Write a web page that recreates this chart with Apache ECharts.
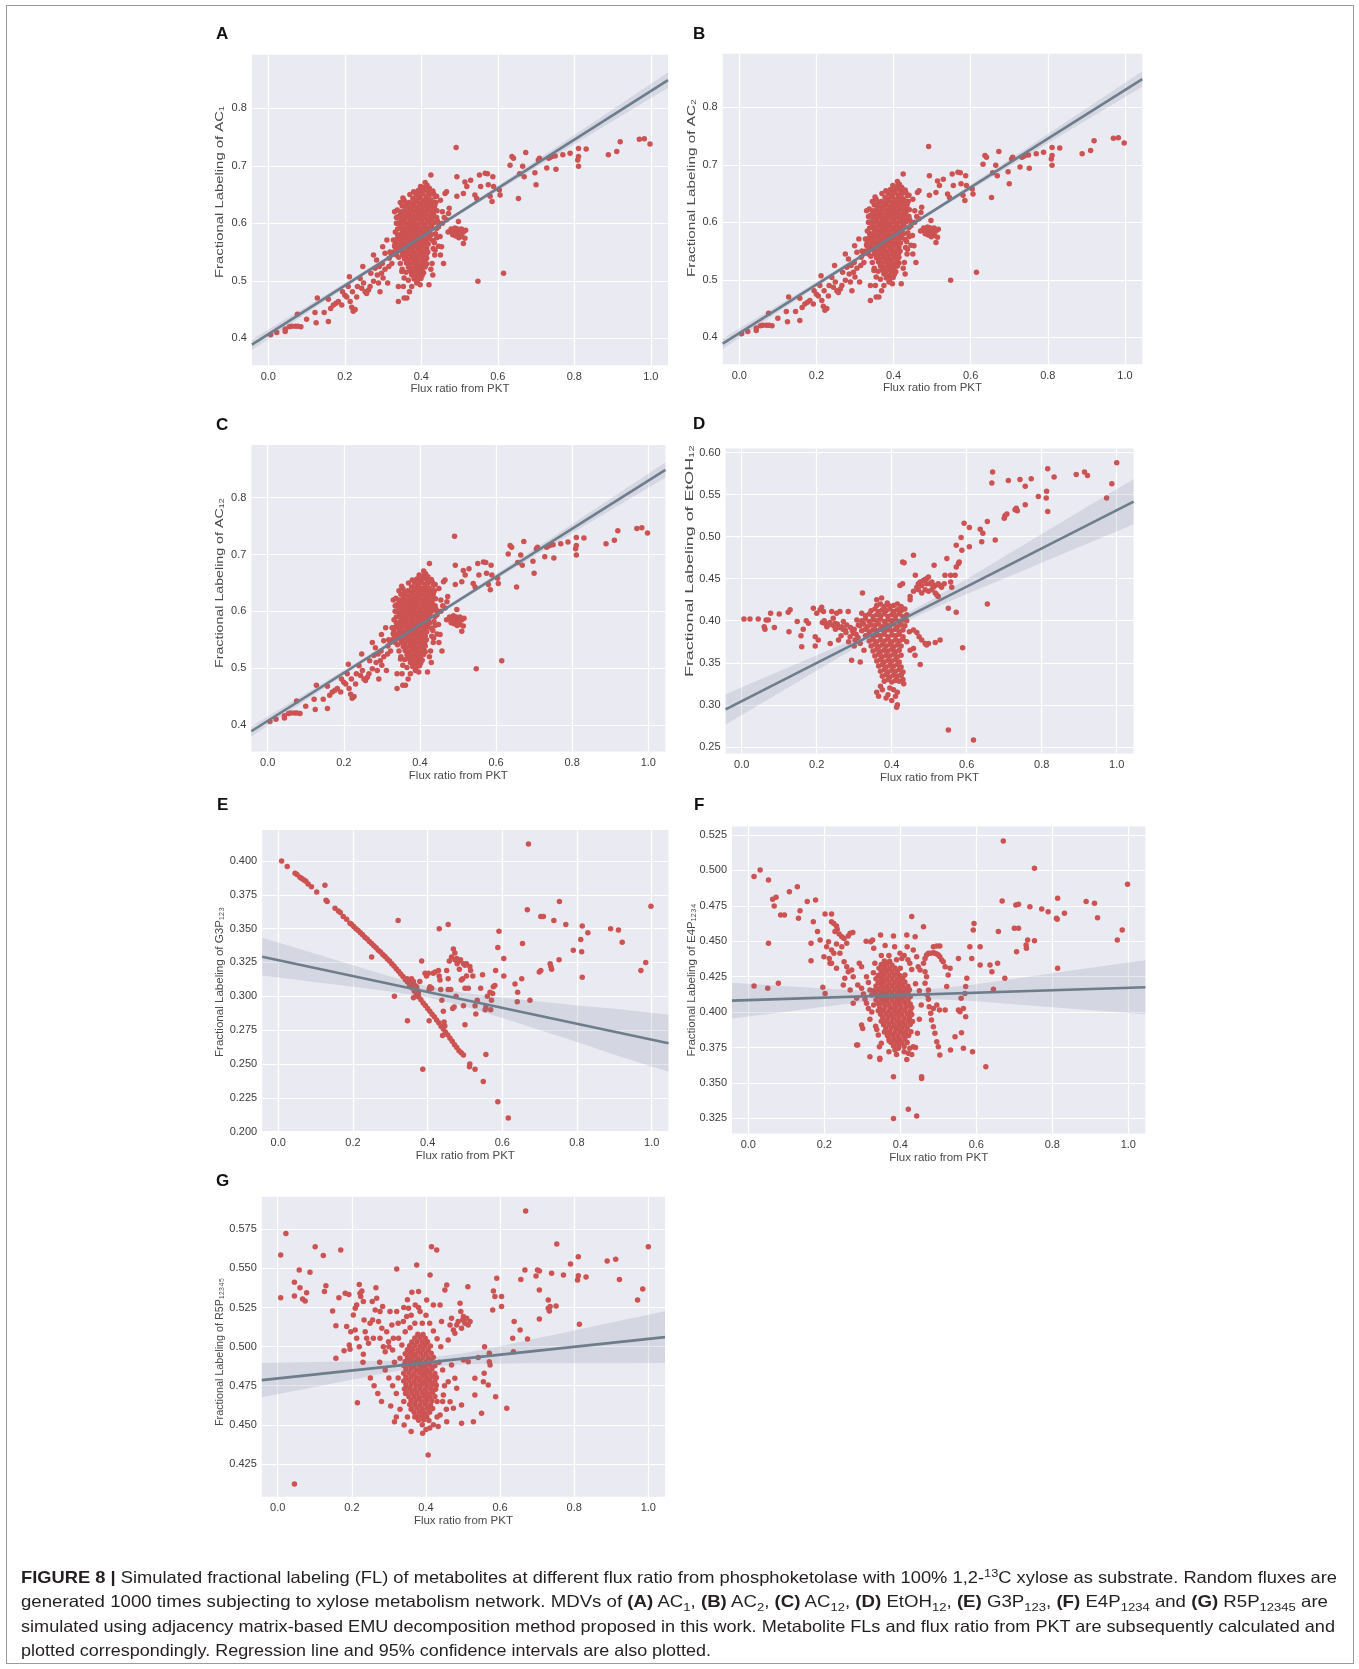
<!DOCTYPE html>
<html>
<head>
<meta charset="utf-8">
<script src="https://cdn.jsdelivr.net/npm/echarts@6/dist/echarts.min.js"></script>
<style>
    body { margin: 0; background: #fff; }
    #chart { position: absolute; left: 0; top: 0; width: 1359px; height: 1669px; }
    #frame { position: absolute; left: 6px; top: 5px; width: 1346px; height: 1657px; border: 1px solid #9a9a9a; }
    .ln { position: absolute; left: 21px; white-space: nowrap; transform-origin: 0 50%;
          font-family: "Liberation Sans Narrow", "Liberation Sans", sans-serif; font-size: 16.5px;
          line-height: 20px; color: #231f20; }
    .ln sub, .ln sup { font-size: 70%; line-height: 0; }
</style>
</head>
<body>
<div id="frame"></div>
<div id="chart"></div>
<div id="caption">
    <div class="ln" data-w="1316" style="top:1567px"><b>FIGURE 8 |</b> Simulated fractional labeling (FL) of metabolites at different flux ratio from phosphoketolase with 100% 1,2-<sup>13</sup>C xylose as substrate. Random fluxes are</div>
    <div class="ln" data-w="1307" style="top:1591px">generated 1000 times subjecting to xylose metabolism network. MDVs of <b>(A)</b> AC<sub>1</sub>, <b>(B)</b> AC<sub>2</sub>, <b>(C)</b> AC<sub>12</sub>, <b>(D)</b> EtOH<sub>12</sub>, <b>(E)</b> G3P<sub>123</sub>, <b>(F)</b> E4P<sub>1234</sub> and <b>(G)</b> R5P<sub>12345</sub> are</div>
    <div class="ln" data-w="1314" style="top:1616px">simulated using adjacency matrix-based EMU decomposition method proposed in this work. Metabolite FLs and flux ratio from PKT are subsequently calculated and</div>
    <div class="ln" data-w="690" style="top:1640px">plotted correspondingly. Regression line and 95% confidence intervals are also plotted.</div>
</div>
<script>
// 坐标轴刻度
var xTicks = [0, 0.2, 0.4, 0.6, 0.8, 1.0];
var yTicksAC = [0.4, 0.5, 0.6, 0.7, 0.8];
var yTicksD = [0.25, 0.30, 0.35, 0.40, 0.45, 0.50, 0.55, 0.60];
var yTicksE = [0.200, 0.225, 0.250, 0.275, 0.300, 0.325, 0.350, 0.375, 0.400];
var yTicksF = [0.325, 0.350, 0.375, 0.400, 0.425, 0.450, 0.475, 0.500, 0.525];
var yTicksG = [0.425, 0.450, 0.475, 0.500, 0.525, 0.550, 0.575];

// AC1 / AC2 / AC12 (three panels look the same)
var pointsAC = [
    [0.006,0.406],[0.022,0.410],[0.044,0.412],[0.044,0.416],[0.055,0.420],[0.061,0.421],[0.070,0.421],[0.077,0.421],[0.076,0.442],[0.085,0.420],
    [0.100,0.433],[0.122,0.445],[0.125,0.427],[0.128,0.470],[0.146,0.445],[0.157,0.468],[0.157,0.429],[0.163,0.452],[0.170,0.458],[0.177,0.461],
    [0.183,0.464],[0.192,0.458],[0.194,0.481],[0.200,0.475],[0.205,0.472],[0.209,0.490],[0.212,0.507],[0.214,0.464],[0.218,0.454],[0.222,0.447],
    [0.227,0.450],[0.220,0.481],[0.231,0.472],[0.233,0.490],[0.240,0.504],[0.244,0.487],[0.249,0.496],[0.247,0.525],[0.253,0.481],[0.257,0.478],
    [0.262,0.484],[0.266,0.490],[0.268,0.513],[0.275,0.499],[0.279,0.522],[0.275,0.545],[0.283,0.536],[0.288,0.496],[0.292,0.481],[0.296,0.513],
    [0.299,0.559],[0.305,0.548],[0.310,0.571],[0.312,0.496],[0.316,0.539],[0.323,0.530],[0.327,0.571],[0.331,0.559],[0.336,0.600],[0.337,0.623],
    [0.340,0.490],[0.340,0.464],[0.344,0.574],[0.349,0.516],[0.353,0.490],[0.355,0.470],[0.362,0.470],[0.366,0.501],[0.369,0.481],[0.375,0.490],
    [0.382,0.507],[0.388,0.496],[0.392,0.507],[0.397,0.493],[0.420,0.493],[0.414,0.539],[0.425,0.684],[0.432,0.652],[0.440,0.647],[0.436,0.553],
    [0.445,0.594],[0.449,0.577],[0.453,0.559],[0.458,0.530],[0.462,0.652],[0.466,0.655],[0.471,0.617],[0.473,0.626],[0.466,0.606],[0.475,0.586],
    [0.484,0.586],[0.493,0.583],[0.497,0.603],[0.501,0.588],[0.506,0.577],[0.510,0.565],[0.514,0.574],[0.516,0.588],[0.493,0.681],[0.491,0.732],
    [0.493,0.647],[0.510,0.652],[0.514,0.672],[0.519,0.664],[0.529,0.675],[0.540,0.649],[0.545,0.643],[0.552,0.684],[0.555,0.664],[0.567,0.687],
    [0.573,0.686],[0.575,0.667],[0.580,0.647],[0.585,0.638],[0.587,0.681],[0.589,0.664],[0.604,0.658],[0.606,0.649],[0.548,0.499],[0.615,0.513],
    [0.632,0.701],[0.637,0.716],[0.641,0.713],[0.654,0.643],[0.657,0.686],[0.665,0.699],[0.669,0.681],[0.673,0.723],[0.697,0.688],[0.700,0.667],
    [0.706,0.710],[0.709,0.713],[0.728,0.696],[0.733,0.713],[0.737,0.715],[0.741,0.716],[0.750,0.717],[0.752,0.694],[0.770,0.719],[0.789,0.722],
    [0.811,0.730],[0.809,0.710],[0.811,0.716],[0.811,0.699],[0.831,0.729],[0.889,0.719],[0.911,0.725],[0.920,0.742],[0.970,0.746],[0.983,0.747],
    [0.998,0.738],
    [0.470,0.585],[0.478,0.590],[0.488,0.592],[0.495,0.590],[0.500,0.582],[0.505,0.590],[0.490,0.578],[0.482,0.580],[0.510,0.585],[0.498,0.575],
    [0.430,0.620],[0.435,0.630],[0.440,0.610],[0.450,0.640],[0.455,0.620],[0.440,0.575],[0.445,0.560],[0.430,0.570],[0.435,0.545],[0.428,0.530],
    [0.430,0.510],[0.425,0.520],[0.455,0.600],[0.460,0.610],[0.450,0.545],
    [0.330,0.620],[0.335,0.610],[0.338,0.580],[0.332,0.565],[0.335,0.545],[0.328,0.550],[0.345,0.530],[0.350,0.520],[0.355,0.505],[0.360,0.515],
    [0.345,0.620],[0.350,0.630],[0.355,0.640],[0.360,0.635],[0.370,0.650],[0.380,0.655],
    [0.318,0.550],[0.322,0.545],[0.315,0.525],[0.305,0.520],[0.298,0.530],[0.290,0.525],[0.285,0.510],[0.300,0.505],
    [0.335,0.600],[0.338,0.590],[0.332,0.585],[0.340,0.612],[0.342,0.601],[0.441,0.622],[0.442,0.604],[0.440,0.591],[0.446,0.600],[0.438,0.636],
    [0.436,0.646],[0.430,0.656],[0.335,0.572],[0.330,0.561],[0.337,0.552],[0.341,0.541],[0.415,0.666],[0.410,0.671],[0.421,0.661],[0.437,0.582],
    [0.434,0.566],[0.431,0.556],[0.345,0.636],[0.352,0.644],
    // dense cloud
    [0.398,0.664],[0.407,0.662],
    [0.392,0.657],[0.401,0.655],[0.411,0.658],[0.419,0.654],
    [0.386,0.650],[0.395,0.648],[0.404,0.651],[0.413,0.647],[0.422,0.650],
    [0.378,0.643],[0.388,0.641],[0.397,0.644],[0.405,0.640],[0.414,0.643],[0.424,0.641],
    [0.368,0.636],[0.377,0.634],[0.386,0.637],[0.396,0.635],[0.404,0.633],[0.413,0.636],[0.421,0.634],[0.431,0.637],
    [0.361,0.629],[0.371,0.627],[0.380,0.630],[0.389,0.628],[0.398,0.626],[0.407,0.629],[0.416,0.627],[0.425,0.630],[0.433,0.626],
    [0.356,0.622],[0.365,0.620],[0.374,0.623],[0.383,0.621],[0.392,0.619],[0.401,0.622],[0.410,0.620],[0.419,0.623],[0.428,0.620],
    [0.351,0.615],[0.360,0.613],[0.369,0.616],[0.378,0.614],[0.387,0.612],[0.396,0.615],[0.405,0.613],[0.414,0.616],[0.423,0.613],[0.432,0.615],
    [0.347,0.608],[0.356,0.606],[0.365,0.609],[0.374,0.607],[0.383,0.605],[0.392,0.608],[0.401,0.606],[0.410,0.609],[0.419,0.606],[0.428,0.608],
    [0.352,0.601],[0.361,0.599],[0.370,0.602],[0.379,0.600],[0.388,0.598],[0.397,0.601],[0.406,0.599],[0.415,0.602],[0.424,0.599],[0.433,0.601],
    [0.346,0.594],[0.355,0.592],[0.364,0.595],[0.373,0.593],[0.382,0.591],[0.391,0.594],[0.400,0.592],[0.409,0.595],[0.418,0.592],[0.427,0.594],
    [0.350,0.587],[0.359,0.585],[0.368,0.588],[0.377,0.586],[0.386,0.584],[0.395,0.587],[0.404,0.585],[0.413,0.588],[0.422,0.585],
    [0.345,0.580],[0.354,0.578],[0.363,0.581],[0.372,0.579],[0.381,0.577],[0.390,0.580],[0.399,0.578],[0.408,0.581],[0.417,0.578],[0.426,0.580],
    [0.341,0.573],[0.350,0.571],[0.359,0.574],[0.368,0.572],[0.377,0.570],[0.386,0.573],[0.395,0.571],[0.404,0.574],[0.413,0.571],[0.421,0.573],
    [0.346,0.566],[0.355,0.564],[0.364,0.567],[0.373,0.565],[0.382,0.563],[0.391,0.566],[0.400,0.564],[0.409,0.567],[0.418,0.564],
    [0.342,0.559],[0.351,0.557],[0.360,0.560],[0.369,0.558],[0.378,0.556],[0.387,0.559],[0.396,0.557],[0.405,0.560],[0.414,0.557],
    [0.347,0.552],[0.356,0.550],[0.365,0.553],[0.374,0.551],[0.383,0.549],[0.392,0.552],[0.401,0.550],[0.410,0.553],[0.417,0.550],
    [0.351,0.545],[0.360,0.543],[0.369,0.546],[0.378,0.544],[0.387,0.542],[0.396,0.545],[0.405,0.543],[0.413,0.546],
    [0.356,0.538],[0.365,0.536],[0.374,0.539],[0.383,0.537],[0.392,0.535],[0.401,0.538],[0.410,0.536],
    [0.361,0.531],[0.370,0.529],[0.379,0.532],[0.388,0.530],[0.397,0.528],[0.406,0.531],[0.414,0.529],
    [0.366,0.524],[0.375,0.522],[0.384,0.525],[0.393,0.523],[0.402,0.521],[0.410,0.524],
    [0.370,0.517],[0.379,0.515],[0.388,0.518],[0.397,0.516],[0.406,0.514],
    [0.375,0.510],[0.384,0.508],[0.393,0.511],[0.402,0.509],
    [0.381,0.503],[0.390,0.501],[0.399,0.504]
];
var fitAC = [[-0.043, 0.3888], [1.045, 0.849]];
var bandAC = [[-0.043,0.3798,0.3978],[0.15,0.4655,0.4755],[0.3,0.5304,0.5374],[0.42,0.5817,0.5877],[0.55,0.6359,0.6435],[0.7,0.6971,0.7091],[0.85,0.7576,0.7756],[1.045,0.8355,0.8625]];

// EtOH12
var pointsD = [
    [0.006,0.402],[0.022,0.402],[0.044,0.402],[0.065,0.401],[0.071,0.401],[0.060,0.393],[0.062,0.390],[0.077,0.409],[0.087,0.392],[0.100,0.408],
    [0.124,0.410],[0.129,0.413],[0.126,0.387],[0.148,0.399],[0.158,0.382],[0.160,0.369],[0.164,0.390],[0.172,0.400],[0.178,0.397],[0.191,0.415],
    [0.196,0.381],[0.196,0.370],[0.200,0.409],[0.204,0.377],[0.209,0.413],[0.213,0.416],[0.218,0.411],[0.222,0.397],[0.227,0.393],[0.231,0.395],
    [0.236,0.373],[0.240,0.411],[0.244,0.403],[0.249,0.397],[0.253,0.409],[0.258,0.377],[0.262,0.411],[0.267,0.393],[0.271,0.399],[0.276,0.389],
    [0.280,0.395],[0.284,0.411],[0.289,0.381],[0.293,0.353],[0.298,0.385],[0.302,0.377],[0.307,0.401],[0.311,0.395],[0.316,0.373],[0.316,0.351],
    [0.322,0.433],[0.320,0.409],[0.326,0.365],
    [0.215,0.398],[0.220,0.400],[0.225,0.396],[0.235,0.398],[0.245,0.394],[0.255,0.396],[0.260,0.392],[0.270,0.390],[0.278,0.386],[0.290,0.392],
    [0.295,0.388],[0.300,0.390],[0.305,0.384],[0.310,0.380],[0.250,0.390],[0.265,0.382],[0.285,0.375],[0.300,0.370],
    [0.360,0.425],[0.373,0.427],[0.388,0.421],[0.396,0.417],[0.422,0.442],[0.429,0.444],[0.429,0.470],[0.433,0.469],[0.458,0.478],[0.463,0.454],
    [0.449,0.425],
    [0.449,0.429],[0.458,0.435],[0.467,0.440],[0.471,0.444],[0.476,0.446],[0.480,0.442],[0.484,0.448],[0.489,0.449],[0.493,0.450],[0.498,0.452],
    [0.493,0.444],[0.502,0.444],[0.507,0.446],[0.511,0.440],[0.516,0.433],[0.520,0.431],[0.524,0.429],[0.471,0.437],[0.480,0.433],[0.489,0.437],
    [0.498,0.435],[0.507,0.437],[0.516,0.442],[0.524,0.444],[0.529,0.442],[0.533,0.440],[0.540,0.444],
    [0.513,0.466],[0.542,0.454],[0.547,0.474],[0.557,0.454],[0.557,0.446],[0.560,0.440],[0.569,0.454],[0.572,0.464],[0.578,0.468],[0.572,0.490],
    [0.580,0.470],[0.585,0.499],[0.587,0.484],[0.593,0.516],[0.607,0.511],[0.607,0.488],[0.636,0.509],[0.640,0.494],[0.643,0.504],[0.655,0.518],
    [0.676,0.496],[0.667,0.564],[0.669,0.577],[0.700,0.522],[0.702,0.525],[0.707,0.527],[0.711,0.567],[0.729,0.532],[0.732,0.534],[0.735,0.531],
    [0.742,0.568],[0.756,0.560],[0.756,0.538],[0.772,0.569],[0.791,0.548],[0.812,0.546],[0.813,0.554],[0.816,0.530],[0.816,0.581],[0.833,0.571],
    [0.892,0.574],[0.914,0.577],[0.922,0.573],[0.973,0.546],[0.987,0.563],[1.000,0.588],
    [0.551,0.270],[0.618,0.258],[0.551,0.415],[0.572,0.410],[0.589,0.368],[0.655,0.420],[0.529,0.377],[0.516,0.374],[0.493,0.371],[0.498,0.373],
    [0.476,0.348],[0.462,0.359],[0.458,0.367],[0.449,0.365],[0.440,0.375],[0.447,0.387],[0.458,0.389],[0.467,0.386],[0.473,0.381],[0.480,0.377],
    [0.489,0.373],
    [0.370,0.322],[0.395,0.320],[0.405,0.318],[0.415,0.315],[0.360,0.315],[0.365,0.310],[0.390,0.312],[0.400,0.305],[0.410,0.310],[0.415,0.300],
    [0.413,0.297],[0.385,0.308],[0.430,0.330],[0.425,0.335],[0.432,0.325],[0.375,0.318],
    // dense cloud
    [0.360,0.418],[0.370,0.420],[0.380,0.417],[0.390,0.419],[0.405,0.418],[0.415,0.420],[0.425,0.417],
    [0.345,0.412],[0.355,0.414],[0.365,0.411],[0.375,0.413],[0.385,0.412],[0.395,0.414],[0.405,0.411],[0.415,0.413],[0.425,0.412],[0.435,0.414],
    [0.330,0.406],[0.340,0.408],[0.350,0.405],[0.360,0.407],[0.370,0.406],[0.380,0.408],[0.390,0.405],[0.400,0.407],[0.410,0.406],[0.420,0.408],[0.430,0.405],[0.440,0.407],
    [0.320,0.400],[0.330,0.402],[0.340,0.399],[0.350,0.401],[0.360,0.400],[0.370,0.402],[0.380,0.399],[0.390,0.401],[0.400,0.400],[0.410,0.402],[0.420,0.399],[0.430,0.401],[0.440,0.400],
    [0.315,0.394],[0.325,0.396],[0.335,0.393],[0.345,0.395],[0.355,0.394],[0.365,0.396],[0.375,0.393],[0.385,0.395],[0.395,0.394],[0.405,0.396],[0.415,0.393],[0.425,0.395],[0.435,0.394],
    [0.320,0.388],[0.330,0.390],[0.340,0.387],[0.350,0.389],[0.360,0.388],[0.370,0.390],[0.380,0.387],[0.390,0.389],[0.400,0.388],[0.410,0.390],[0.420,0.387],[0.430,0.389],
    [0.330,0.382],[0.340,0.384],[0.350,0.381],[0.360,0.383],[0.370,0.382],[0.380,0.384],[0.390,0.381],[0.400,0.383],[0.410,0.382],[0.420,0.384],[0.430,0.381],
    [0.340,0.376],[0.350,0.378],[0.360,0.375],[0.370,0.377],[0.380,0.376],[0.390,0.378],[0.400,0.375],[0.410,0.377],[0.420,0.376],[0.430,0.378],
    [0.345,0.370],[0.355,0.372],[0.365,0.369],[0.375,0.371],[0.385,0.370],[0.395,0.372],[0.405,0.369],[0.415,0.371],[0.425,0.370],
    [0.350,0.364],[0.360,0.366],[0.370,0.363],[0.380,0.365],[0.390,0.364],[0.400,0.366],[0.410,0.363],[0.420,0.365],
    [0.355,0.358],[0.365,0.360],[0.375,0.357],[0.385,0.359],[0.395,0.358],[0.405,0.360],[0.415,0.357],[0.425,0.359],
    [0.360,0.352],[0.370,0.354],[0.380,0.351],[0.390,0.353],[0.400,0.352],[0.410,0.354],[0.420,0.351],
    [0.365,0.346],[0.375,0.348],[0.385,0.345],[0.395,0.347],[0.405,0.346],[0.415,0.348],[0.425,0.345],
    [0.370,0.340],[0.380,0.342],[0.390,0.339],[0.400,0.341],[0.410,0.340],[0.420,0.342],[0.430,0.339],
    [0.375,0.334],[0.385,0.336],[0.395,0.333],[0.405,0.335],[0.415,0.334],[0.425,0.336],
    [0.380,0.328],[0.390,0.330],[0.400,0.327],[0.410,0.329],[0.420,0.328]
];
var fitD = [[-0.043, 0.2945], [1.045, 0.5418]];
var bandD = [[-0.043,0.2765,0.3125],[0.1,0.314,0.34],[0.2,0.3408,0.3588],[0.3,0.367,0.378],[0.4,0.3912,0.3992],[0.5,0.4125,0.4235],[0.6,0.4317,0.4497],[0.7,0.4504,0.4764],[0.8,0.4691,0.5031],[0.9,0.4879,0.5299],[1.045,0.5148,0.5688]];

// G3P123
var pointsE = [
    [0.009,0.400],[0.024,0.396],[0.045,0.391],[0.050,0.390],[0.058,0.388],[0.063,0.387],[0.069,0.386],[0.074,0.385],[0.080,0.383],[0.089,0.381],
    [0.103,0.377],[0.125,0.382],[0.128,0.371],[0.131,0.370],[0.152,0.365],[0.161,0.363],[0.166,0.362],[0.174,0.359],[0.183,0.357],[0.192,0.354],
    [0.196,0.3532],[0.202,0.3515],[0.208,0.3500],[0.214,0.3486],[0.220,0.3470],[0.226,0.3455],[0.232,0.3437],[0.238,0.3423],[0.244,0.3405],[0.250,0.3391],
    [0.256,0.3373],[0.262,0.3359],[0.268,0.3341],[0.274,0.3327],[0.280,0.3309],[0.286,0.3294],[0.292,0.3276],[0.298,0.3261],[0.304,0.3241],[0.310,0.3224],
    [0.316,0.3203],[0.322,0.3186],[0.328,0.3165],[0.334,0.3147],[0.340,0.3124],[0.346,0.3105],[0.352,0.3082],[0.358,0.3063],[0.364,0.3039],[0.370,0.3019],
    [0.376,0.2995],[0.382,0.2974],[0.388,0.2951],[0.394,0.2932],[0.400,0.2909],[0.406,0.2890],[0.412,0.2867],[0.418,0.2848],[0.424,0.2824],[0.430,0.2804],
    [0.436,0.2779],[0.442,0.2759],[0.448,0.2735],[0.454,0.2714],[0.460,0.2689],[0.466,0.2667],[0.472,0.2641],[0.478,0.2621],[0.484,0.2597],[0.490,0.2583],
    [0.496,0.2567],[0.345,0.313],[0.355,0.310],[0.365,0.306],[0.375,0.302],[0.360,0.311],[0.370,0.307],
    [0.250,0.329],[0.321,0.356],[0.311,0.300],[0.346,0.282],[0.387,0.246],[0.404,0.282],[0.431,0.350],[0.455,0.353],
    [0.357,0.313],[0.362,0.311],[0.366,0.308],[0.371,0.306],[0.375,0.303],[0.369,0.300],[0.362,0.299],[0.379,0.311],[0.384,0.326],[0.393,0.317],
    [0.397,0.315],[0.402,0.317],[0.406,0.307],[0.404,0.305],[0.411,0.306],[0.415,0.317],[0.420,0.318],[0.429,0.319],[0.431,0.315],[0.433,0.312],
    [0.435,0.305],[0.438,0.297],[0.442,0.289],[0.444,0.281],[0.446,0.278],[0.440,0.271],[0.451,0.319],[0.455,0.313],[0.455,0.305],[0.462,0.305],
    [0.458,0.326],[0.464,0.329],[0.469,0.335],[0.473,0.332],[0.473,0.327],[0.478,0.328],[0.479,0.324],[0.485,0.326],[0.488,0.327],[0.496,0.324],
    [0.500,0.323],[0.504,0.324],[0.513,0.322],[0.467,0.291],[0.471,0.292],[0.476,0.300],[0.485,0.320],[0.490,0.312],[0.494,0.313],[0.500,0.306],
    [0.504,0.315],[0.509,0.306],[0.515,0.319],[0.521,0.315],[0.527,0.293],[0.529,0.287],[0.533,0.297],[0.547,0.316],[0.542,0.306],[0.554,0.290],
    [0.556,0.292],[0.560,0.300],[0.567,0.303],[0.569,0.290],[0.571,0.297],[0.574,0.302],[0.576,0.307],[0.580,0.308],[0.582,0.319],[0.588,0.336],
    [0.591,0.348],[0.604,0.315],[0.604,0.328],[0.634,0.309],[0.641,0.303],[0.640,0.296],[0.652,0.313],[0.654,0.339],[0.674,0.297],[0.699,0.318],
    [0.703,0.319],[0.703,0.359],[0.710,0.359],[0.728,0.324],[0.732,0.320],[0.730,0.322],[0.738,0.356],[0.753,0.370],[0.752,0.327],[0.770,0.353],
    [0.790,0.334],[0.810,0.342],[0.8125,0.333],[0.814,0.352],[0.814,0.314],[0.829,0.347],[0.890,0.350],[0.911,0.349],[0.921,0.340],[0.971,0.319],
    [0.984,0.325],[0.998,0.3665],[0.496,0.293],[0.500,0.279],[0.513,0.250],[0.512,0.248],[0.527,0.246],[0.549,0.237],[0.556,0.257],[0.588,0.222],
    [0.616,0.210],[0.667,0.364],[0.670,0.4125]
];
var fitE = [[-0.043, 0.3293], [1.045, 0.2653]];
var bandE = [[-0.043,0.3153,0.3433],[0.1,0.3104,0.3314],[0.2,0.307,0.323],[0.3,0.3036,0.3146],[0.4,0.2993,0.3073],[0.5,0.2924,0.3024],[0.6,0.284,0.299],[0.7,0.2751,0.2961],[0.8,0.2662,0.2932],[0.9,0.2568,0.2908],[1.045,0.2443,0.2863]];

// E4P1234
var pointsF = [
    [0.015,0.4956],[0.031,0.5003],[0.053,0.4932],[0.015,0.4184],[0.051,0.4168],[0.053,0.4485],[0.064,0.4796],[0.073,0.4810],[0.068,0.4749],[0.079,0.4203],
    [0.085,0.4685],[0.095,0.4685],[0.108,0.4850],[0.129,0.4885],[0.132,0.4662],[0.136,0.4716],[0.155,0.4780],[0.165,0.4485],[0.165,0.4363],[0.171,0.4638],
    [0.177,0.4791],[0.182,0.4568],[0.189,0.4509],[0.196,0.4175],[0.199,0.4391],[0.202,0.4692],[0.202,0.4132],[0.211,0.4497],[0.215,0.4344],[0.219,0.4692],
    [0.219,0.4638],[0.225,0.4626],[0.232,0.4608],[0.234,0.4584],[0.228,0.4568],[0.239,0.4551],[0.246,0.4532],[0.252,0.4520],[0.263,0.4537],[0.268,0.4556],
    [0.275,0.4561],[0.259,0.4485],[0.246,0.4462],[0.232,0.4481],[0.219,0.4438],[0.225,0.4415],[0.206,0.4462],[0.213,0.4379],[0.219,0.4344],[0.232,0.4309],
    [0.241,0.4415],[0.252,0.4356],[0.259,0.4320],[0.263,0.4285],[0.272,0.4297],[0.276,0.4250],[0.254,0.4238],[0.250,0.4191],[0.268,0.4156],[0.276,0.4062],
    [0.285,0.4097],[0.288,0.4191],[0.298,0.4168],[0.303,0.4128],[0.307,0.4090],[0.292,0.4344],[0.298,0.4320],[0.311,0.4250],[0.316,0.4208],[0.320,0.4156],
    [0.325,0.4121],
    [0.285,0.3768],[0.298,0.3909],[0.301,0.3885],[0.311,0.4062],[0.316,0.4026],[0.320,0.3685],[0.322,0.4497],[0.327,0.4509],[0.329,0.4278],[0.333,0.4344],
    [0.338,0.3878],[0.342,0.3838],[0.345,0.3756],[0.346,0.3674],[0.348,0.4544],[0.382,0.4537],[0.385,0.4462],[0.382,0.3544],[0.399,0.4415],[0.404,0.4379],
    [0.417,0.4544],[0.418,0.4462],[0.425,0.4344],[0.430,0.4674],[0.434,0.4438],[0.439,0.4532],[0.443,0.4391],[0.447,0.4320],[0.452,0.4297],[0.456,0.3544],
    [0.461,0.4603],[0.461,0.4344],
    [0.465,0.4379],[0.469,0.4403],[0.474,0.4415],[0.480,0.4415],[0.487,0.4419],[0.491,0.4415],[0.496,0.4410],[0.500,0.4403],[0.504,0.4391],[0.509,0.4368],
    [0.513,0.4356],[0.518,0.4320],[0.487,0.4462],[0.496,0.4466],[0.504,0.4466],
    [0.465,0.4285],[0.469,0.4250],[0.471,0.4120],[0.474,0.4090],[0.476,0.4038],[0.480,0.3991],[0.482,0.3944],[0.487,0.3897],[0.491,0.3850],[0.496,0.3791],
    [0.500,0.3756],[0.504,0.3697],[0.465,0.4203],[0.474,0.4156],[0.487,0.4026],[0.496,0.4050],[0.503,0.4015],[0.518,0.4015],[0.522,0.4180],[0.526,0.4262],
    [0.531,0.4309],[0.544,0.3826],[0.553,0.4015],[0.557,0.4003],[0.532,0.3732],[0.553,0.4379],[0.560,0.4097],[0.566,0.4026],[0.572,0.3968],[0.561,0.3855],
    [0.566,0.3744],[0.570,0.4132],[0.572,0.4180],[0.575,0.4238],[0.583,0.4462],[0.588,0.4379],[0.592,0.4579],[0.594,0.4626],[0.590,0.3720],[0.610,0.4462],
    [0.610,0.4332],[0.625,0.3614],[0.636,0.4332],[0.641,0.4285],[0.645,0.4161],[0.656,0.4344],[0.658,0.4568],[0.668,0.4784],[0.671,0.5208],[0.675,0.4238],
    [0.700,0.4591],[0.706,0.4426],[0.711,0.4591],[0.704,0.4756],[0.711,0.4761],[0.731,0.4474],[0.732,0.4450],[0.735,0.4509],[0.741,0.4744],[0.753,0.5015],
    [0.753,0.4504],[0.772,0.4728],[0.789,0.4709],[0.811,0.4662],[0.813,0.4655],[0.814,0.4803],[0.814,0.4309],[0.832,0.4697],[0.889,0.4780],[0.911,0.4768],
    [0.919,0.4666],[0.971,0.4509],[0.984,0.4579],[0.998,0.4902],
    [0.288,0.3768],[0.346,0.3666],[0.371,0.3796],[0.386,0.3732],[0.395,0.3744],[0.417,0.3666],[0.421,0.3709],[0.425,0.3744],[0.434,0.3756],[0.382,0.3250],
    [0.421,0.3314],[0.443,0.3266],[0.456,0.3532],
    [0.310,0.4500],[0.330,0.4450],[0.350,0.4400],[0.360,0.4470],[0.370,0.4400],[0.390,0.4370],[0.410,0.4400],[0.420,0.4370],[0.430,0.4300],[0.440,0.4200],
    [0.450,0.4150],[0.455,0.4050],[0.450,0.3950],[0.445,0.3850],[0.440,0.3750],[0.430,0.3700],[0.410,0.3720],[0.390,0.3700],[0.370,0.3720],[0.350,0.3780],
    [0.335,0.3900],[0.325,0.4000],[0.320,0.3950],[0.330,0.4050],[0.330,0.4150],
    // dense cloud
    [0.358,0.4360],[0.372,0.4358],
    [0.350,0.4335],[0.364,0.4338],[0.378,0.4333],
    [0.344,0.4310],[0.358,0.4312],[0.372,0.4308],[0.386,0.4311],[0.400,0.4309],
    [0.350,0.4285],[0.364,0.4288],[0.378,0.4284],[0.392,0.4286],
    [0.342,0.4260],[0.356,0.4262],[0.370,0.4258],[0.384,0.4261],[0.398,0.4259],[0.412,0.4262],
    [0.336,0.4235],[0.350,0.4237],[0.364,0.4233],[0.378,0.4236],[0.392,0.4234],[0.406,0.4237],
    [0.342,0.4210],[0.356,0.4212],[0.370,0.4208],[0.384,0.4211],[0.398,0.4209],[0.412,0.4212],
    [0.336,0.4185],[0.350,0.4187],[0.364,0.4183],[0.378,0.4186],[0.392,0.4184],[0.406,0.4187],[0.420,0.4183],
    [0.342,0.4160],[0.356,0.4162],[0.370,0.4158],[0.384,0.4161],[0.398,0.4159],[0.412,0.4162],[0.424,0.4158],
    [0.336,0.4135],[0.350,0.4137],[0.364,0.4133],[0.378,0.4136],[0.392,0.4134],[0.406,0.4137],[0.420,0.4133],
    [0.342,0.4110],[0.356,0.4112],[0.370,0.4108],[0.384,0.4111],[0.398,0.4109],[0.412,0.4112],[0.426,0.4108],
    [0.336,0.4085],[0.350,0.4087],[0.364,0.4083],[0.378,0.4086],[0.392,0.4084],[0.406,0.4087],[0.420,0.4083],
    [0.342,0.4060],[0.356,0.4062],[0.370,0.4058],[0.384,0.4061],[0.398,0.4059],[0.412,0.4062],[0.426,0.4058],
    [0.346,0.4035],[0.360,0.4037],[0.374,0.4033],[0.388,0.4036],[0.402,0.4034],[0.416,0.4037],[0.430,0.4033],
    [0.342,0.4010],[0.356,0.4012],[0.370,0.4008],[0.384,0.4011],[0.398,0.4009],[0.412,0.4012],[0.426,0.4008],
    [0.348,0.3985],[0.362,0.3987],[0.376,0.3983],[0.390,0.3986],[0.404,0.3984],[0.418,0.3987],[0.430,0.3983],
    [0.354,0.3960],[0.368,0.3962],[0.382,0.3958],[0.396,0.3961],[0.410,0.3959],[0.424,0.3962],
    [0.350,0.3935],[0.364,0.3937],[0.378,0.3933],[0.392,0.3936],[0.406,0.3934],[0.420,0.3937],[0.432,0.3933],
    [0.356,0.3910],[0.370,0.3912],[0.384,0.3908],[0.398,0.3911],[0.412,0.3909],[0.426,0.3912],
    [0.362,0.3885],[0.376,0.3887],[0.390,0.3883],[0.404,0.3886],[0.418,0.3884],
    [0.358,0.3860],[0.372,0.3862],[0.386,0.3858],[0.400,0.3861],[0.414,0.3859],[0.428,0.3862],
    [0.366,0.3835],[0.380,0.3837],[0.394,0.3833],[0.408,0.3836],[0.422,0.3834],
    [0.370,0.3810],[0.384,0.3812],[0.398,0.3808],[0.412,0.3811],
    [0.376,0.3785],[0.390,0.3787],[0.404,0.3783],[0.418,0.3786],
    [0.382,0.3760],[0.396,0.3762],[0.410,0.3758]
];
var fitF = [[-0.043, 0.4081], [1.045, 0.4175]];
var bandF = [[-0.043,0.3955,0.4207],[0.1,0.4003,0.4183],[0.2,0.4037,0.4167],[0.3,0.4071,0.4151],[0.4,0.4089,0.4149],[0.5,0.409,0.4166],[0.6,0.4077,0.4197],[0.7,0.4055,0.4235],[0.8,0.4034,0.4274],[0.9,0.4013,0.4313],[1.045,0.3985,0.4365]];

// R5P12345
var pointsG = [
    [0.008,0.5586],[0.008,0.5313],[0.022,0.5724],[0.045,0.5411],[0.045,0.5324],[0.045,0.4122],[0.058,0.5490],[0.060,0.5377],[0.067,0.5305],[0.074,0.5292],
    [0.078,0.5345],[0.087,0.5475],[0.101,0.5639],[0.123,0.5582],[0.126,0.5352],[0.130,0.5390],[0.148,0.5228],[0.157,0.5134],[0.157,0.4925],[0.165,0.5313],
    [0.170,0.5618],[0.179,0.4974],[0.182,0.5341],[0.192,0.5334],[0.193,0.5011],[0.195,0.4983],[0.186,0.5128],[0.197,0.5096],[0.204,0.5202],[0.209,0.5245],
    [0.213,0.5266],[0.209,0.5107],[0.213,0.5053],[0.215,0.4642],[0.220,0.5398],[0.222,0.5341],[0.224,0.5320],[0.227,0.5356],
    [0.231,0.5288],[0.233,0.5170],[0.236,0.5096],[0.240,0.5053],[0.231,0.4951],[0.245,0.5021],[0.249,0.5149],[0.255,0.5288],[0.256,0.5170],[0.258,0.5053],
    [0.263,0.5234],[0.265,0.5377],[0.267,0.5309],[0.272,0.5160],[0.276,0.5224],[0.276,0.5053],[0.281,0.5117],[0.283,0.5256],[0.285,0.5000],[0.290,0.4968],
    [0.294,0.5096],[0.299,0.5032],[0.303,0.5224],[0.308,0.5138],[0.310,0.4979],[0.312,0.5053],[0.315,0.4520],[0.321,0.5496],[0.321,0.5224],[0.326,0.5053],
    [0.330,0.4925],[0.335,0.5011],[0.339,0.5160],[0.341,0.4499],[0.344,0.5096],[0.348,0.5192],[0.353,0.5245],[0.357,0.5121],[0.360,0.4457],[0.362,0.5347],
    [0.366,0.4947],[0.371,0.5266],[0.375,0.5522],[0.380,0.5352],[0.384,0.5224],[0.391,0.4446],[0.402,0.5298],[0.406,0.4307],[0.411,0.5458],[0.415,0.5639],
    [0.420,0.5266],[0.429,0.5618],[0.433,0.4489],[0.438,0.5266],[0.442,0.5160],[0.451,0.5362],[0.456,0.5394],[0.460,0.5043],[0.465,0.5138],[0.469,0.5181],
    [0.474,0.5107],[0.478,0.5085],[0.483,0.5138],[0.487,0.5160],[0.492,0.5277],[0.494,0.5224],[0.496,0.5117],[0.499,0.5170],[0.501,0.5192],[0.505,0.5149],
    [0.510,0.5181],[0.514,0.5138],[0.519,0.5160],[0.513,0.5383],[0.501,0.4915],[0.496,0.4627],[0.496,0.4510],[0.478,0.4798],[0.483,0.4734],[0.474,0.4606],
    [0.465,0.4648],[0.456,0.4520],[0.460,0.4776],[0.469,0.4883],[0.447,0.4691],[0.438,0.4563],[0.514,0.4904],[0.528,0.4520],[0.532,0.4691],[0.532,0.4798],
    [0.541,0.4930],[0.550,0.4574],[0.555,0.4776],[0.557,0.4830],[0.558,0.5000],[0.568,0.4755],[0.571,0.4904],[0.573,0.4883],[0.571,0.4957],[0.580,0.5234],
    [0.582,0.5356],[0.586,0.5320],[0.588,0.4680],[0.591,0.5437],[0.604,0.5320],[0.604,0.5256],[0.618,0.4606],[0.638,0.5160],[0.636,0.4968],[0.634,0.5053],
    [0.654,0.5107],[0.656,0.5430],[0.667,0.5490],[0.669,0.5867],[0.674,0.5049],[0.697,0.5452],[0.701,0.5490],[0.706,0.5484],[0.706,0.5362],[0.706,0.5177],
    [0.730,0.5298],[0.730,0.5245],[0.733,0.5228],[0.735,0.5256],[0.739,0.5469],[0.751,0.5260],[0.753,0.5656],[0.771,0.5458],[0.790,0.5528],[0.809,0.5426],
    [0.811,0.5454],[0.811,0.5575],[0.814,0.5143],[0.832,0.5445],[0.889,0.5548],[0.912,0.5558],[0.922,0.5430],[0.971,0.5298],[0.985,0.5369],[1.000,0.5639],
    [0.220,0.500],[0.230,0.490],[0.250,0.480],[0.260,0.475],[0.270,0.470],[0.280,0.465],[0.300,0.480],[0.310,0.475],[0.320,0.470],[0.305,0.462],
    [0.290,0.485],[0.275,0.490],[0.325,0.480],[0.330,0.460],[0.340,0.465],[0.320,0.455],[0.300,0.500],[0.315,0.490],[0.325,0.515],[0.340,0.525],
    [0.350,0.530],[0.360,0.520],[0.370,0.515],[0.380,0.525],[0.390,0.515],[0.400,0.520],[0.410,0.515],[0.420,0.510],[0.430,0.505],[0.440,0.500],
    [0.435,0.490],[0.445,0.485],[0.450,0.475],[0.445,0.465],[0.455,0.460],[0.430,0.455],[0.420,0.450],[0.410,0.448],[0.400,0.447],[0.390,0.450],
    [0.370,0.455],[0.360,0.460],[0.350,0.455],[0.345,0.470],[0.430,0.465],
    // dense cloud
    [0.378,0.5080],[0.392,0.5078],
    [0.370,0.5055],[0.384,0.5057],[0.398,0.5053],
    [0.362,0.5030],[0.376,0.5032],[0.390,0.5028],[0.404,0.5031],
    [0.356,0.5005],[0.370,0.5007],[0.384,0.5003],[0.398,0.5006],[0.412,0.5004],
    [0.350,0.4980],[0.364,0.4982],[0.378,0.4978],[0.392,0.4981],[0.406,0.4979],
    [0.344,0.4955],[0.358,0.4957],[0.372,0.4953],[0.386,0.4956],[0.400,0.4954],[0.414,0.4957],
    [0.350,0.4930],[0.364,0.4932],[0.378,0.4928],[0.392,0.4931],[0.406,0.4929],[0.420,0.4932],
    [0.344,0.4905],[0.358,0.4907],[0.372,0.4903],[0.386,0.4906],[0.400,0.4904],[0.414,0.4907],
    [0.340,0.4880],[0.354,0.4882],[0.368,0.4878],[0.382,0.4881],[0.396,0.4879],[0.410,0.4882],[0.424,0.4878],
    [0.346,0.4855],[0.360,0.4857],[0.374,0.4853],[0.388,0.4856],[0.402,0.4854],[0.416,0.4857],
    [0.340,0.4830],[0.354,0.4832],[0.368,0.4828],[0.382,0.4831],[0.396,0.4829],[0.410,0.4832],[0.424,0.4828],
    [0.346,0.4805],[0.360,0.4807],[0.374,0.4803],[0.388,0.4806],[0.402,0.4804],[0.416,0.4807],[0.428,0.4803],
    [0.340,0.4780],[0.354,0.4782],[0.368,0.4778],[0.382,0.4781],[0.396,0.4779],[0.410,0.4782],[0.424,0.4778],
    [0.346,0.4755],[0.360,0.4757],[0.374,0.4753],[0.388,0.4756],[0.402,0.4754],[0.416,0.4757],[0.428,0.4753],
    [0.342,0.4730],[0.356,0.4732],[0.370,0.4728],[0.384,0.4731],[0.398,0.4729],[0.412,0.4732],[0.426,0.4728],
    [0.348,0.4705],[0.362,0.4707],[0.376,0.4703],[0.390,0.4706],[0.404,0.4704],[0.418,0.4707],
    [0.354,0.4680],[0.368,0.4682],[0.382,0.4678],[0.396,0.4681],[0.410,0.4679],[0.424,0.4682],
    [0.360,0.4655],[0.374,0.4657],[0.388,0.4653],[0.402,0.4656],[0.416,0.4654],
    [0.356,0.4630],[0.370,0.4632],[0.384,0.4628],[0.398,0.4631],[0.412,0.4629],
    [0.362,0.4605],[0.376,0.4607],[0.390,0.4603],[0.404,0.4606],[0.418,0.4604],
    [0.368,0.4580],[0.382,0.4582],[0.396,0.4578],[0.410,0.4581],
    [0.374,0.4555],[0.388,0.4557],[0.402,0.4553],
    [0.380,0.4530],[0.394,0.4532],[0.408,0.4528]
];
var fitG = [[-0.043, 0.4786], [1.045, 0.5061]];
var bandG = [[-0.043,0.4676,0.4896],[0.1,0.4742,0.4902],[0.2,0.4789,0.4905],[0.3,0.4836,0.491],[0.4,0.4868,0.4928],[0.5,0.4888,0.4958],[0.6,0.4893,0.5003],[0.7,0.4894,0.5054],[0.8,0.4894,0.5104],[0.9,0.4894,0.5154],[1.045,0.4895,0.5227]];

// 每个子图的布局
var panels = [
    { tag: 'A', yName: 'Fractional Labeling of AC₁', pts: pointsAC, fit: fitAC, band: bandAC, ticks: yTicksAC, dec: 1, yMin: 0.353, yMax: 0.893,
      box: [251.9, 54.8, 416.1, 310.5], tagPos: [216, 34], yNamePos: [220, 192, 172] },
    { tag: 'B', yName: 'Fractional Labeling of AC₂', pts: pointsAC, fit: fitAC, band: bandAC, ticks: yTicksAC, dec: 1, yMin: 0.353, yMax: 0.893,
      box: [722.7, 53.8, 419.6, 310.5], tagPos: [693, 34], yNamePos: [692, 188, 178] },
    { tag: 'C', yName: 'Fractional Labeling of AC₁₂', pts: pointsAC, fit: fitAC, band: bandAC, ticks: yTicksAC, dec: 1, yMin: 0.353, yMax: 0.893,
      box: [251.3, 444.9, 414.1, 306.7], tagPos: [216, 425], yNamePos: [220, 583, 170] },
    { tag: 'D', yName: 'Fractional Labeling of EtOH₁₂', pts: pointsD, fit: fitD, band: bandD, ticks: yTicksD, dec: 2, yMin: 0.242, yMax: 0.605,
      box: [725.6, 448.5, 408, 305], tagPos: [693, 424], yNamePos: [690, 561, 232] },
    { tag: 'E', yName: 'Fractional Labeling of G3P₁₂₃', pts: pointsE, fit: fitE, band: bandE, ticks: yTicksE, dec: 3, yMin: 0.2, yMax: 0.4229,
      box: [262.2, 830, 406.3, 301.6], tagPos: [217, 805], yNamePos: [220, 982, 150] },
    { tag: 'F', yName: 'Fractional Labeling of E4P₁₂₃₄', pts: pointsF, fit: fitF, band: bandF, ticks: yTicksF, dec: 3, yMin: 0.3144, yMax: 0.5309,
      box: [732, 826.6, 413.4, 306.8], tagPos: [694, 805], yNamePos: [692, 980, 153] },
    { tag: 'G', yName: 'Fractional Labeling of R5P₁₂₃₄₅', pts: pointsG, fit: fitG, band: bandG, ticks: yTicksG, dec: 3, yMin: 0.404, yMax: 0.5958,
      box: [261.8, 1196.8, 403.2, 300], tagPos: [216, 1181], yNamePos: [220, 1352, 148] }
];

var DOT = '#CD5252';
var LINE = '#6E7D8C';
var FONT = '"Liberation Sans", Arial, sans-serif';

// 量一下文字宽度, 用来拉伸y轴标题
var mctx = document.createElement('canvas').getContext('2d');
mctx.font = '11.5px ' + FONT;

var chart = echarts.init(document.getElementById('chart'));
var option = { animation: false, grid: [], xAxis: [], yAxis: [], series: [], graphic: [] };

panels.forEach((p, i) => {
    option.grid.push({
        left: p.box[0], top: p.box[1], width: p.box[2], height: p.box[3],
        show: true, backgroundColor: '#EAEAF2', borderWidth: 0
    });
    option.xAxis.push({
        type: 'value', gridIndex: i, min: -0.043, max: 1.045,
        axisLine: { show: false },
        axisTick: { show: false, customValues: xTicks },
        axisLabel: { customValues: xTicks, formatter: v => v.toFixed(1), color: '#3c3c3c', fontSize: 11, fontFamily: FONT, margin: 6 },
        splitLine: { show: true, lineStyle: { color: '#ffffff', width: 1.2 } },
        name: 'Flux ratio from PKT', nameLocation: 'middle', nameGap: 18,
        nameTextStyle: { color: '#4a4a4a', fontSize: 11.5, fontFamily: FONT }
    });
    option.yAxis.push({
        type: 'value', gridIndex: i, min: p.yMin, max: p.yMax,
        axisLine: { show: false },
        axisTick: { show: false, customValues: p.ticks },
        axisLabel: { customValues: p.ticks, formatter: v => v.toFixed(p.dec), color: '#3c3c3c', fontSize: 11, fontFamily: FONT, margin: 5 },
        splitLine: { show: true, lineStyle: { color: '#ffffff', width: 1.2 } }
    });
    // 散点
    option.series.push({
        type: 'scatter', xAxisIndex: i, yAxisIndex: i, data: p.pts,
        symbolSize: 5.5, itemStyle: { color: DOT, opacity: 1 }, z: 2, silent: true
    });
    // 95% 置信区间
    option.series.push({
        type: 'custom', xAxisIndex: i, yAxisIndex: i, data: [0], z: 3, silent: true,
        renderItem: (params, api) => {
            let upper = p.band.map(b => api.coord([b[0], b[2]]));
            let lower = p.band.slice().reverse().map(b => api.coord([b[0], b[1]]));
            return { type: 'polygon', shape: { points: upper.concat(lower) }, style: { fill: 'rgba(105,118,140,0.17)' } };
        }
    });
    // 回归线
    option.series.push({
        type: 'line', xAxisIndex: i, yAxisIndex: i, data: p.fit, showSymbol: false, z: 4, silent: true,
        lineStyle: { color: LINE, width: 2.6 }
    });
    // 子图字母
    option.graphic.push({
        type: 'text', x: p.tagPos[0], y: p.tagPos[1],
        style: { text: p.tag, fill: '#111', font: 'bold 17px ' + FONT, align: 'left', verticalAlign: 'middle' }
    });
    // y轴标题
    let w = mctx.measureText(p.yName).width;
    option.graphic.push({
        type: 'text', x: p.yNamePos[0], y: p.yNamePos[1], rotation: Math.PI / 2, scaleX: p.yNamePos[2] / w,
        style: { text: p.yName, fill: '#4a4a4a', font: '11.5px ' + FONT, align: 'center', verticalAlign: 'middle' }
    });
});

chart.setOption(option);

// 图注每行按参考宽度压窄
document.querySelectorAll('.ln').forEach(el => {
    let k = parseFloat(el.dataset.w) / el.getBoundingClientRect().width;
    el.style.transform = 'scaleX(' + k + ')';
});
</script>
</body>
</html>
